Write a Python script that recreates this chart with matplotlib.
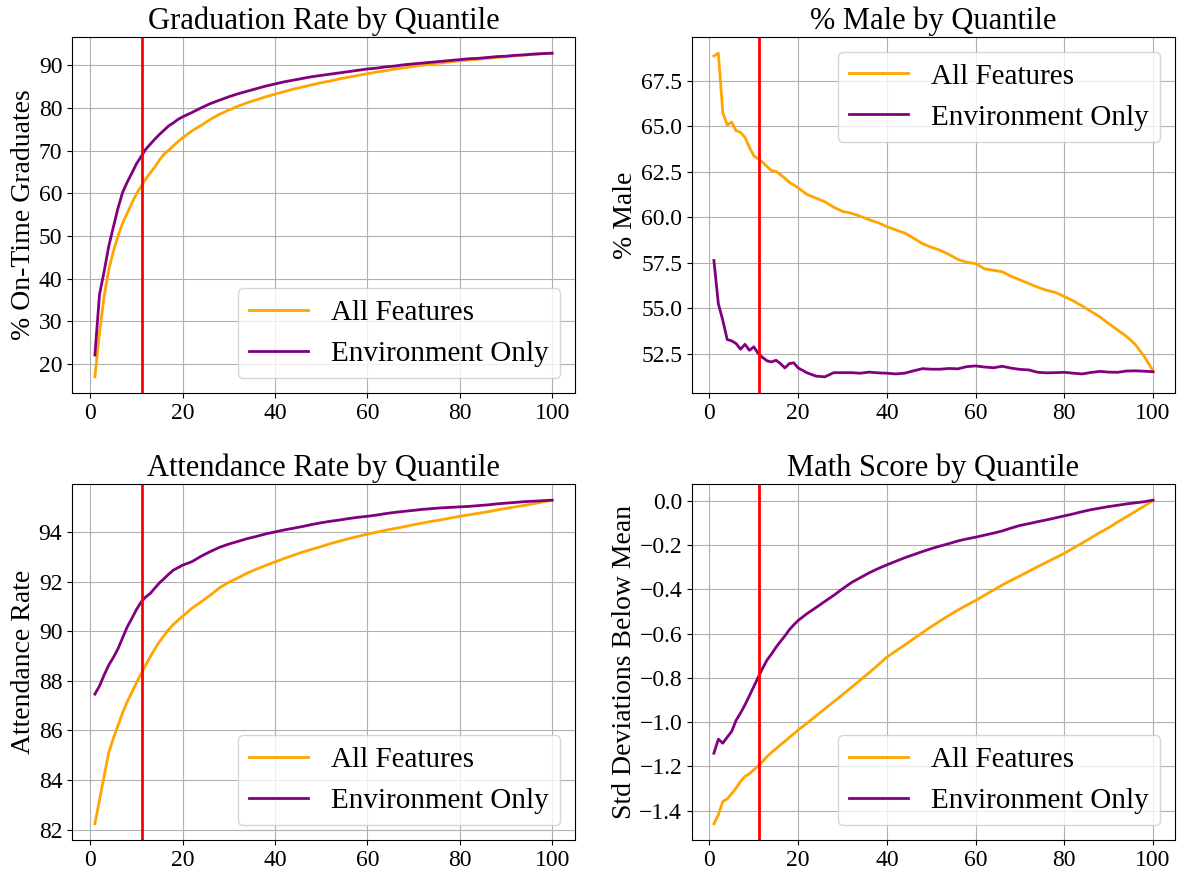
import matplotlib
matplotlib.use("Agg")
import matplotlib.pyplot as plt
from matplotlib.ticker import MultipleLocator

plt.rcParams['font.family'] = ['Liberation Serif', 'DejaVu Serif']

# quantile positions (every 1 up to 20, then every 2)
quantiles = list(range(1, 21)) + list(range(22, 101, 2))
cutoff = 11.2

grad_all = [17.0, 27.3, 35.9, 42.1, 46.4, 50.0, 53.0, 55.3, 57.7, 59.9,
            61.6, 63.3, 64.8, 66.2, 67.8, 69.2, 70.1, 71.1, 72.1, 73.0,
            74.6, 75.9, 77.3, 78.5, 79.5, 80.4, 81.2, 81.9, 82.6, 83.2,
            83.8, 84.4, 84.9, 85.4, 85.9, 86.3, 86.8, 87.2, 87.6, 88.0,
            88.4, 88.7, 89.1, 89.4, 89.7, 90.0, 90.3, 90.5, 90.8, 91.0,
            91.2, 91.4, 91.6, 91.8, 92.0, 92.2, 92.4, 92.5, 92.7, 92.8]
grad_env = [22.1, 36.3, 41.7, 47.6, 52.1, 56.5, 60.2, 62.6, 64.7, 66.9,
            68.6, 70.3, 71.5, 72.7, 73.8, 74.8, 75.8, 76.5, 77.3, 77.9,
            78.9, 80.0, 81.0, 81.8, 82.6, 83.3, 83.9, 84.5, 85.1, 85.6,
            86.1, 86.5, 86.9, 87.3, 87.6, 87.9, 88.2, 88.5, 88.8, 89.1,
            89.3, 89.6, 89.8, 90.1, 90.3, 90.5, 90.7, 90.9, 91.1, 91.3,
            91.5, 91.6, 91.8, 92.0, 92.1, 92.3, 92.4, 92.6, 92.7, 92.8]

male_all = [68.87, 69.02, 65.76, 65.07, 65.23, 64.76, 64.66, 64.39, 63.84, 63.38,
            63.20, 63.02, 62.78, 62.56, 62.52, 62.34, 62.14, 61.92, 61.77, 61.61,
            61.25, 61.05, 60.85, 60.55, 60.32, 60.22, 60.05, 59.86, 59.70, 59.48,
            59.30, 59.13, 58.85, 58.55, 58.35, 58.18, 57.95, 57.68, 57.52, 57.45,
            57.16, 57.08, 57.00, 56.75, 56.55, 56.35, 56.15, 55.98, 55.86, 55.64,
            55.40, 55.12, 54.82, 54.52, 54.15, 53.80, 53.45, 53.00, 52.35, 51.55]
male_env = [57.62, 55.24, 54.33, 53.27, 53.20, 53.05, 52.74, 53.01, 52.68, 52.87,
            52.50, 52.28, 52.10, 52.04, 52.13, 51.95, 51.71, 51.95, 51.99, 51.71,
            51.44, 51.26, 51.22, 51.45, 51.45, 51.45, 51.42, 51.48, 51.44, 51.42,
            51.38, 51.42, 51.55, 51.67, 51.64, 51.64, 51.68, 51.66, 51.78, 51.82,
            51.76, 51.72, 51.80, 51.70, 51.63, 51.60, 51.47, 51.44, 51.45, 51.47,
            51.42, 51.38, 51.46, 51.52, 51.48, 51.47, 51.54, 51.55, 51.53, 51.50]

att_all = [82.23, 83.19, 84.16, 85.10, 85.68, 86.19, 86.71, 87.15, 87.53, 87.92,
           88.28, 88.63, 88.97, 89.29, 89.58, 89.83, 90.07, 90.27, 90.44, 90.60,
           90.92, 91.18, 91.45, 91.75, 91.97, 92.15, 92.34, 92.50, 92.65, 92.79,
           92.93, 93.06, 93.19, 93.30, 93.41, 93.53, 93.63, 93.73, 93.82, 93.91,
           93.99, 94.07, 94.14, 94.21, 94.29, 94.36, 94.43, 94.49, 94.56, 94.63,
           94.69, 94.75, 94.81, 94.88, 94.95, 95.01, 95.07, 95.14, 95.21, 95.28]
att_env = [87.46, 87.79, 88.23, 88.63, 88.94, 89.29, 89.73, 90.17, 90.51, 90.87,
           91.17, 91.38, 91.52, 91.74, 91.95, 92.12, 92.30, 92.46, 92.56, 92.66,
           92.80, 93.02, 93.21, 93.38, 93.51, 93.62, 93.73, 93.82, 93.92, 94.00,
           94.08, 94.15, 94.22, 94.30, 94.37, 94.43, 94.48, 94.54, 94.59, 94.63,
           94.68, 94.74, 94.79, 94.83, 94.87, 94.91, 94.94, 94.97, 94.99, 95.01,
           95.03, 95.06, 95.09, 95.13, 95.16, 95.19, 95.22, 95.24, 95.26, 95.28]

math_all = [-1.459, -1.418, -1.358, -1.347, -1.323, -1.298, -1.268, -1.245, -1.233, -1.215,
            -1.197, -1.177, -1.155, -1.137, -1.120, -1.102, -1.087, -1.069, -1.053, -1.035,
            -1.005, -0.972, -0.940, -0.908, -0.876, -0.843, -0.810, -0.777, -0.742, -0.706,
            -0.679, -0.652, -0.624, -0.596, -0.569, -0.543, -0.518, -0.494, -0.472, -0.451,
            -0.427, -0.404, -0.381, -0.360, -0.340, -0.319, -0.298, -0.278, -0.258, -0.238,
            -0.215, -0.192, -0.168, -0.144, -0.122, -0.097, -0.073, -0.049, -0.025, 0.0]
math_env = [-1.140, -1.077, -1.095, -1.068, -1.042, -0.992, -0.959, -0.922, -0.881, -0.839,
            -0.797, -0.756, -0.719, -0.692, -0.662, -0.636, -0.611, -0.583, -0.561, -0.541,
            -0.510, -0.483, -0.455, -0.428, -0.398, -0.370, -0.348, -0.326, -0.307, -0.290,
            -0.274, -0.258, -0.244, -0.230, -0.217, -0.205, -0.194, -0.182, -0.173, -0.165,
            -0.156, -0.147, -0.137, -0.124, -0.112, -0.104, -0.095, -0.087, -0.078, -0.069,
            -0.060, -0.050, -0.041, -0.034, -0.027, -0.021, -0.015, -0.010, -0.005, 0.002]

panels = [
    ('Graduation Rate by Quantile', '% On-Time Graduates', grad_all, grad_env, 'lower right', 10),
    ('% Male by Quantile', '% Male', male_all, male_env, 'upper right', 2.5),
    ('Attendance Rate by Quantile', 'Attendance Rate', att_all, att_env, 'lower right', 2),
    ('Math Score by Quantile', 'Std Deviations Below Mean', math_all, math_env, 'lower right', 0.2),
]

# axes boxes in figure fractions
positions = [
    [0.0611, 0.5498, 0.4266, 0.4078],
    [0.5869, 0.5498, 0.4097, 0.4078],
    [0.0611, 0.0378, 0.4266, 0.4078],
    [0.5869, 0.0378, 0.4097, 0.4078],
]

fig, axes = plt.subplots(2, 2, figsize=(11.79, 8.73), dpi=100)

for ax, pos, (title, ylabel, all_vals, env_vals, loc, ystep) in zip(axes.flat, positions, panels):
    ax.set_position(pos)
    ax.plot(quantiles, all_vals, color='orange', lw=2, label='All Features')
    ax.plot(quantiles, env_vals, color='purple', lw=2, label='Environment Only')
    ax.axvline(cutoff, color='red', lw=2)
    ax.set_title(title, fontsize=22, pad=6)
    ax.set_ylabel(ylabel, fontsize=20, labelpad=2)
    ax.yaxis.set_major_locator(MultipleLocator(ystep))
    ax.tick_params(labelsize=17)
    ax.grid(True)
    ax.legend(loc=loc, fontsize=21)

fig.savefig('out.png', dpi=100)
